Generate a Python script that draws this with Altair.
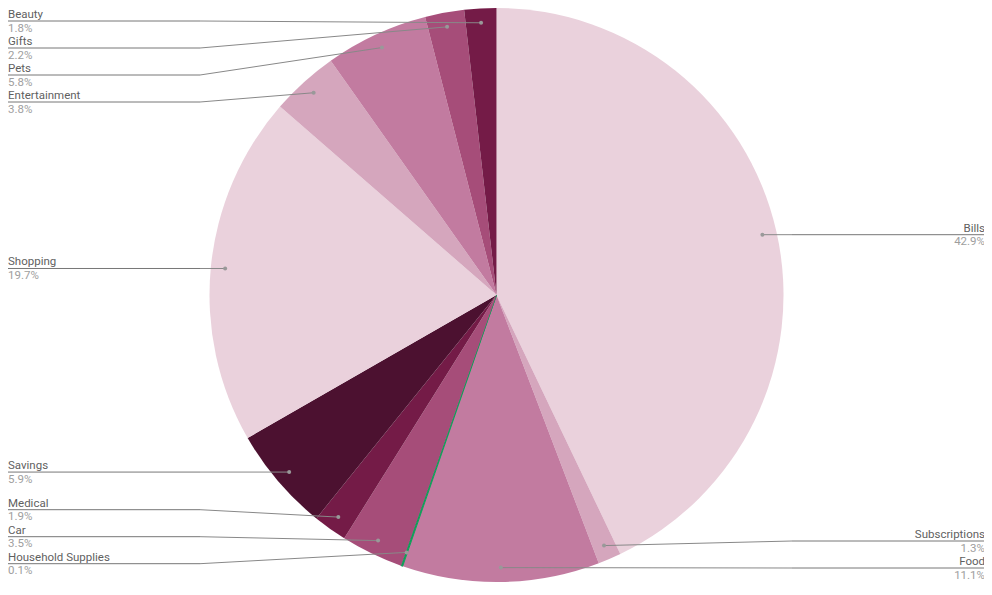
import altair as alt
import pandas as pd
import numpy as np

# ---- data ----
categories = ["Bills", "Subscriptions", "Food", "Household Supplies", "Car", "Medical",
              "Savings", "Shopping", "Entertainment", "Pets", "Gifts", "Beauty"]
values = [42.9, 1.3, 11.1, 0.1, 3.5, 1.9, 5.9, 19.7, 3.8, 5.8, 2.2, 1.8]
colors = ["#EAD1DC", "#D5A6BD", "#C27BA0", "#0F9D58", "#A64D79", "#741B47",
          "#4C1130", "#EAD1DC", "#D5A6BD", "#C27BA0", "#A64D79", "#741B47"]

# ---- layout (view pixel coordinates) ----
W, H = 976, 579
CX, CY, R = 488.5, 287.0, 287.0
DOT_R = 0.95 * R
GAP = 27.0
LEFT_X, LEFT_BEND = 0.0, 192.0
RIGHT_X, RIGHT_BEND = 977.0, 784.0

df = pd.DataFrame({"category": categories, "value": values})
df["order"] = np.arange(len(df))
total = df["value"].sum()
cum = df["value"].cumsum() - df["value"] / 2
ang = cum / total * 2 * np.pi
df["dot_x"] = CX + DOT_R * np.sin(ang)
df["dot_y"] = CY - DOT_R * np.cos(ang)
df["side"] = np.where(df["dot_x"] >= CX, "right", "left")
df["pct"] = df["value"].map(lambda v: f"{v:.1f}%")


def place(ys, lo, hi):
    idx = sorted(range(len(ys)), key=lambda i: ys[i])
    clusters = []  # [members, top]
    for i in idx:
        clusters.append([[i], ys[i]])
        while True:
            c = clusters[-1]
            n = len(c[0])
            top = np.mean([ys[m] - k * GAP for k, m in enumerate(c[0])])
            top = max(lo, min(top, hi - (n - 1) * GAP))
            c[1] = top
            if len(clusters) > 1:
                p = clusters[-2]
                if p[1] + len(p[0]) * GAP > c[1]:
                    p[0].extend(c[0])
                    clusters.pop()
                    continue
            break
    out = [0.0] * len(ys)
    for members, top in clusters:
        for k, m in enumerate(members):
            out[m] = top + k * GAP
    return out


df["label_y"] = 0.0
for side in ["left", "right"]:
    sub = df[df["side"] == side]
    ly = place(list(sub["dot_y"]), 13.0, 560.0)
    df.loc[sub.index, "label_y"] = ly

df["text_x"] = np.where(df["side"] == "left", LEFT_X, RIGHT_X)
df["bend_x"] = np.where(df["side"] == "left", LEFT_BEND, RIGHT_BEND)
df["name_y"] = df["label_y"] - 3.0
df["pct_y"] = df["label_y"] + 10.5

xs = alt.Scale(domain=[0, W], range=[0, W])
ys = alt.Scale(domain=[0, H], range=[0, H])
cscale = alt.Scale(domain=categories, range=colors)

base = alt.Chart(df)

pie = base.mark_arc(radius=R).encode(
    theta=alt.Theta("value:Q", stack=True),
    order=alt.Order("order:Q"),
    color=alt.Color("category:N", scale=cscale, legend=None),
    stroke=alt.Stroke("category:N", scale=cscale, legend=None),
    strokeWidth=alt.condition(alt.datum.value < 0.5, alt.value(1.0), alt.value(0)),
    x=alt.value(CX),
    y=alt.value(CY),
)

seg1 = base.mark_rule(color="#777777", strokeWidth=1).encode(
    x=alt.X("text_x:Q", scale=xs, axis=None),
    x2="bend_x:Q",
    y=alt.Y("label_y:Q", scale=ys, axis=None),
    y2="label_y:Q",
)
seg2 = base.mark_rule(color="#888888", strokeWidth=1).encode(
    x=alt.X("bend_x:Q", scale=xs, axis=None),
    x2="dot_x:Q",
    y=alt.Y("label_y:Q", scale=ys, axis=None),
    y2="dot_y:Q",
)
dots = base.mark_circle(color="#999999", opacity=1, size=16).encode(
    x=alt.X("dot_x:Q", scale=xs, axis=None),
    y=alt.Y("dot_y:Q", scale=ys, axis=None),
)


def texts(field, ycol, color):
    layers = []
    for side, al in [("left", "left"), ("right", "right")]:
        layers.append(
            alt.Chart(df[df["side"] == side]).mark_text(
                align=al, baseline="alphabetic", font="Roboto", fontSize=11.5, color=color
            ).encode(
                x=alt.X("text_x:Q", scale=xs, axis=None),
                y=alt.Y(f"{ycol}:Q", scale=ys, axis=None),
                text=f"{field}:N",
            )
        )
    return layers


chart = alt.layer(
    pie, seg1, seg2, dots,
    *texts("category", "name_y", "#5f5f5f"),
    *texts("pct", "pct_y", "#9e9e9e"),
).properties(
    width=W, height=H, padding=0, autosize=alt.AutoSizeParams(type="none")
).configure_view(stroke=None)

chart.save("out.html", embed_options={"renderer": "svg", "actions": False})
